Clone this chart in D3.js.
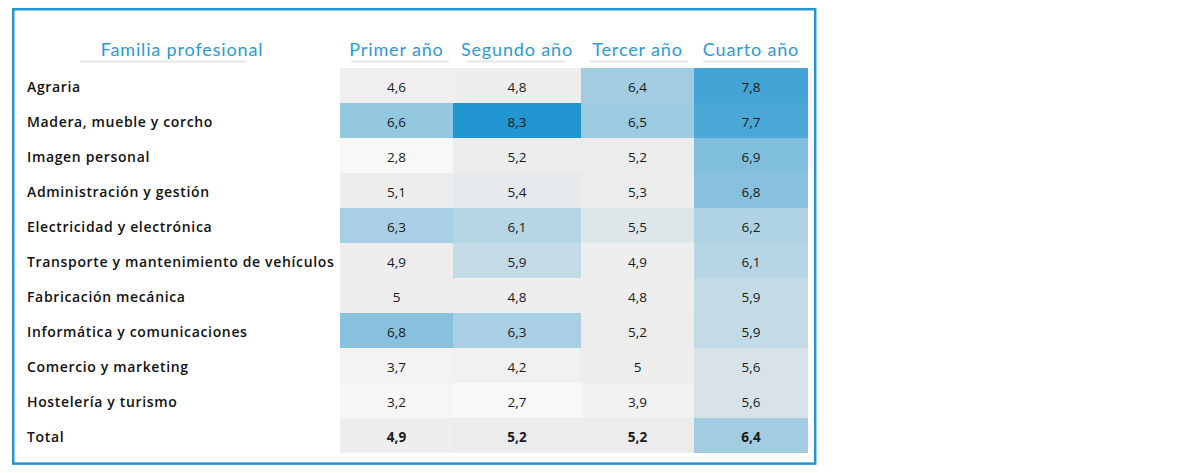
<!DOCTYPE html>
<html>
<head>
<meta charset="utf-8">
<script src="https://cdn.jsdelivr.net/npm/d3@7"></script>
<style>
  body { margin: 0; background: #fff; }
  svg { display: block; }
</style>
</head>
<body>
<div id="chart"></div>
<script>
// data
const families = [
  "Agraria",
  "Madera, mueble y corcho",
  "Imagen personal",
  "Administración y gestión",
  "Electricidad y electrónica",
  "Transporte y mantenimiento de vehículos",
  "Fabricación mecánica",
  "Informática y comunicaciones",
  "Comercio y marketing",
  "Hostelería y turismo",
  "Total"
];
const years = ["Primer año", "Segundo año", "Tercer año", "Cuarto año"];
const firstHeader = "Familia profesional";

const primer  = [4.6, 6.6, 2.8, 5.1, 6.3, 4.9, 5,   6.8, 3.7, 3.2, 4.9];
const segundo = [4.8, 8.3, 5.2, 5.4, 6.1, 5.9, 4.8, 6.3, 4.2, 2.7, 5.2];
const tercer  = [6.4, 6.5, 5.2, 5.3, 5.5, 4.9, 4.8, 5.2, 5,   3.9, 5.2];
const cuarto  = [7.8, 7.7, 6.9, 6.8, 6.2, 6.1, 5.9, 5.9, 5.6, 5.6, 6.4];
const series = [primer, segundo, tercer, cuarto];

const width = 1180, height = 473;

const svg = d3.select("#chart").append("svg")
  .attr("width", width)
  .attr("height", height);

// outer frame
svg.append("rect")
  .attr("x", 13.2).attr("y", 9.2)
  .attr("width", 802).attr("height", 454.4)
  .attr("fill", "none")
  .attr("stroke", "#2196d0")
  .attr("stroke-width", 2.5);

// rows
const y = d3.scaleBand()
  .domain(families)
  .range([68, 453]);

// columns are not all the same width in the original
const xLeft = d3.scaleOrdinal().domain(years).range([340, 453, 581, 694]);
const xWidth = d3.scaleOrdinal().domain(years).range([113, 128, 113, 114]);
const lineLeft = d3.scaleOrdinal().domain(years).range([351, 467, 590, 703]);

const color = d3.scaleLinear()
  .domain([2.7, 5.3, 8.3])
  .range(["#f8f8f8", "#ececec", "#2196d0"])
  .clamp(true);

const fmt = v => String(v).replace(".", ",");

// header
const head = svg.append("g").attr("class", "header");
head.append("line")
  .attr("x1", 80).attr("x2", 246)
  .attr("y1", 61.5).attr("y2", 61.5)
  .attr("stroke", "#e6e6e6").attr("stroke-width", 2);
head.append("text")
  .attr("x", 182).attr("y", 56)
  .attr("text-anchor", "middle")
  .attr("font-family", "Lato, 'Open Sans', sans-serif")
  .attr("font-size", 18)
  .attr("letter-spacing", 0.85)
  .attr("fill", "#2b9ad6")
  .text(firstHeader);

head.selectAll("line.yr")
  .data(years)
  .enter().append("line")
  .attr("class", "yr")
  .attr("x1", d => lineLeft(d)).attr("x2", d => lineLeft(d) + 98)
  .attr("y1", 61.5).attr("y2", 61.5)
  .attr("stroke", "#e6e6e6").attr("stroke-width", 2);

head.selectAll("text.yr")
  .data(years)
  .enter().append("text")
  .attr("class", "yr")
  .attr("x", d => xLeft(d) + xWidth(d) / 2)
  .attr("y", 56)
  .attr("text-anchor", "middle")
  .attr("font-family", "Lato, 'Open Sans', sans-serif")
  .attr("font-size", 18)
  .attr("letter-spacing", 0.85)
  .attr("fill", "#2b9ad6")
  .text(d => d);

// row labels
svg.append("g").selectAll("text")
  .data(families)
  .enter().append("text")
  .attr("x", 27)
  .attr("y", d => y(d) + y.bandwidth() / 2 + 6.5)
  .attr("font-family", "'Open Sans', sans-serif")
  .attr("font-weight", 600)
  .attr("font-size", 14)
  .attr("letter-spacing", 0.65)
  .attr("fill", "#111")
  .text(d => d);

// cells
const cells = [];
series.forEach((vals, j) => {
  vals.forEach((v, i) => {
    cells.push({ year: years[j], fam: families[i], value: v });
  });
});

const cell = svg.append("g").selectAll("g")
  .data(cells)
  .enter().append("g");

cell.append("rect")
  .attr("x", d => xLeft(d.year))
  .attr("y", d => y(d.fam))
  .attr("width", d => xWidth(d.year))
  .attr("height", y.bandwidth())
  .attr("fill", d => color(d.value));

cell.append("text")
  .attr("x", d => xLeft(d.year) + xWidth(d.year) / 2)
  .attr("y", d => y(d.fam) + y.bandwidth() / 2 + 6.5)
  .attr("text-anchor", "middle")
  .attr("font-family", "'Open Sans', sans-serif")
  .attr("font-size", 13.5)
  .attr("font-weight", d => d.fam === "Total" ? 700 : 400)
  .attr("fill", "#1a1a1a")
  .text(d => fmt(d.value));
</script>
</body>
</html>
